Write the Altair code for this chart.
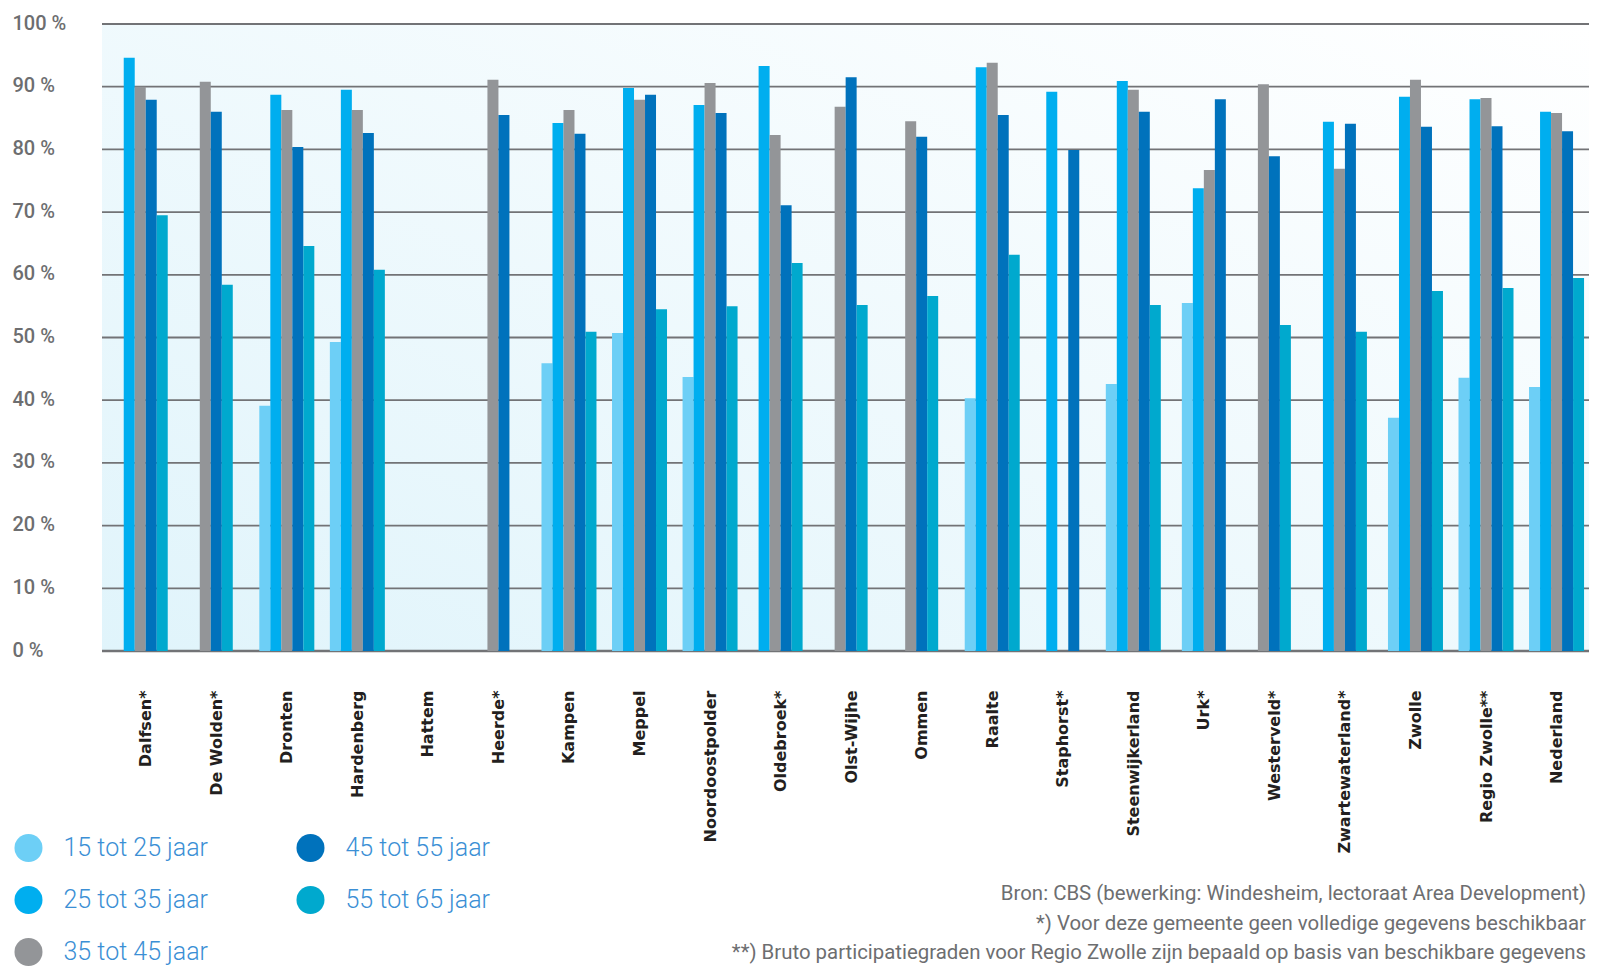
import altair as alt
import pandas as pd

categories = ["Dalfsen*", "De Wolden*", "Dronten", "Hardenberg", "Hattem", "Heerde*",
              "Kampen", "Meppel", "Noordoostpolder", "Oldebroek*", "Olst-Wijhe", "Ommen",
              "Raalte", "Staphorst*", "Steenwijkerland", "Urk*", "Westerveld*",
              "Zwartewaterland*", "Zwolle", "Regio Zwolle**", "Nederland"]
age_groups = ["15 tot 25 jaar", "25 tot 35 jaar", "35 tot 45 jaar", "45 tot 55 jaar", "55 tot 65 jaar"]
N = None
v15_25 = [N, N, 39.1, 49.3, N, N, 45.9, 50.7, 43.7, N, N, N, 40.3, N, 42.6, 55.5, N, N, 37.2, 43.6, 42.1]
v25_35 = [94.6, N, 88.7, 89.5, N, N, 84.2, 89.8, 87.1, 93.3, N, N, 93.1, 89.2, 90.9, 73.8, N, 84.4, 88.4, 88.0, 86.0]
v35_45 = [90.0, 90.8, 86.3, 86.3, N, 91.1, 86.3, 87.9, 90.6, 82.3, 86.8, 84.5, 93.8, N, 89.5, 76.7, 90.4, 76.9, 91.1, 88.2, 85.8]
v45_55 = [87.9, 86.0, 80.4, 82.6, N, 85.5, 82.5, 88.7, 85.8, 71.1, 91.5, 82.0, 85.5, 79.9, 86.0, 88.0, 78.9, 84.1, 83.6, 83.7, 82.9]
v55_65 = [69.5, 58.4, 64.6, 60.8, N, N, 50.9, 54.5, 55.0, 61.9, 55.2, 56.6, 63.2, N, 55.2, N, 52.0, 50.9, 57.4, 57.9, 59.5]
series = [v15_25, v25_35, v35_45, v45_55, v55_65]
colors = ["#6dcff6", "#00aeef", "#939598", "#0072bc", "#00a9ce"]
y_ticks = list(range(0, 101, 10))
footnotes = ["Bron: CBS (bewerking: Windesheim, lectoraat Area Development)",
             "*) Voor deze gemeente geen volledige gegevens beschikbaar",
             "**) Bruto participatiegraden voor Regio Zwolle zijn bepaald op basis van beschikbare gegevens"]

# layout
W, H = 1487, 627
X_DOMAIN = [-0.62, 20.46]
BW = 11 / (W / (X_DOMAIN[1] - X_DOMAIN[0]))  # bar width in category units

rows = []
for i, cat in enumerate(categories):
    present = [j for j in range(5) if series[j][i] is not None]
    if not present:
        continue
    c = (min(present) + max(present)) / 2
    for j in present:
        center = i + (j - c) * BW
        rows.append({"cat": cat, "group": age_groups[j], "value": series[j][i],
                     "x0": center - BW / 2, "x1": center + BW / 2})
df = pd.DataFrame(rows)

label_expr = "[" + ",".join("'" + c + "'" for c in categories) + "][datum.value]"

y_scale = alt.Scale(domain=[0, 100], nice=False)
y_axis = alt.Axis(values=y_ticks, labelExpr="datum.value + ' %'", grid=False, domain=False,
                  ticks=False, tickSize=0, labelAlign="left", labelPadding=90,
                  labelFont="Roboto", labelFontSize=20, labelFontWeight=500,
                  labelColor="#6d6e70", labelBaseline="middle", labelOffset=-1, title=None)

bg = alt.Chart(pd.DataFrame({"a": [0]})).mark_rect(
    color=alt.LinearGradient(gradient="linear",
                             stops=[alt.GradientStop(color="#e0f4fb", offset=0),
                                    alt.GradientStop(color="#ffffff", offset=1)],
                             x1=0, y1=1, x2=1, y2=0)
).encode(x=alt.value(0), x2=alt.value(W), y=alt.value(0), y2=alt.value(H))

rules = alt.Chart(pd.DataFrame({"v": y_ticks})).mark_rule(color="#727376").encode(
    y=alt.Y("v:Q", scale=y_scale, axis=y_axis),
    strokeWidth=alt.condition(alt.datum.v == 0, alt.value(2.5), alt.value(1.8)),
)

bars = alt.Chart(df).mark_rect().encode(
    x=alt.X("x0:Q", scale=alt.Scale(domain=X_DOMAIN, nice=False, zero=False),
            axis=alt.Axis(values=list(range(len(categories))), labelExpr=label_expr,
                          labelAngle=270, grid=False, domain=False, ticks=False, tickSize=0,
                          labelPadding=39, labelFont="DejaVu Sans", labelFontSize=16,
                          labelFontWeight="bold", labelColor="#231f20", labelFlush=False,
                          labelOverlap=False, labelBound=False, title=None)),
    x2="x1:Q",
    y=alt.Y("value:Q", scale=y_scale, axis=y_axis),
    y2=alt.datum(0),
    color=alt.Color("group:N", scale=alt.Scale(domain=age_groups, range=colors),
                    legend=alt.Legend(title=None, orient="none", legendX=-87.5, legendY=810,
                                      columns=2, symbolType="circle", symbolSize=784,
                                      symbolStrokeWidth=0, symbolOpacity=1,
                                      labelFont="Roboto", labelFontSize=25, labelFontWeight=300,
                                      labelColor="#3b8fd5", labelOffset=21, rowPadding=24,
                                      columnPadding=88, padding=0, labelLimit=400)),
)

texts = []
for k, line in enumerate(footnotes):
    texts.append(alt.Chart(pd.DataFrame({"t": [line]})).mark_text(
        align="right", baseline="middle", font="Roboto", fontSize=20.4, color="#6d6e70"
    ).encode(text="t:N", x=alt.value(1484), y=alt.value(870 + 29.5 * k)))

chart = alt.layer(bg, rules, bars, *texts).properties(
    width=W, height=H,
    autosize=alt.AutoSizeParams(type="none"),
    padding={"left": 94, "top": 16, "right": 0, "bottom": 316},
    background="white",
).configure_view(stroke=None)

chart.save("out.html", embed_options={"renderer": "svg", "actions": False})
